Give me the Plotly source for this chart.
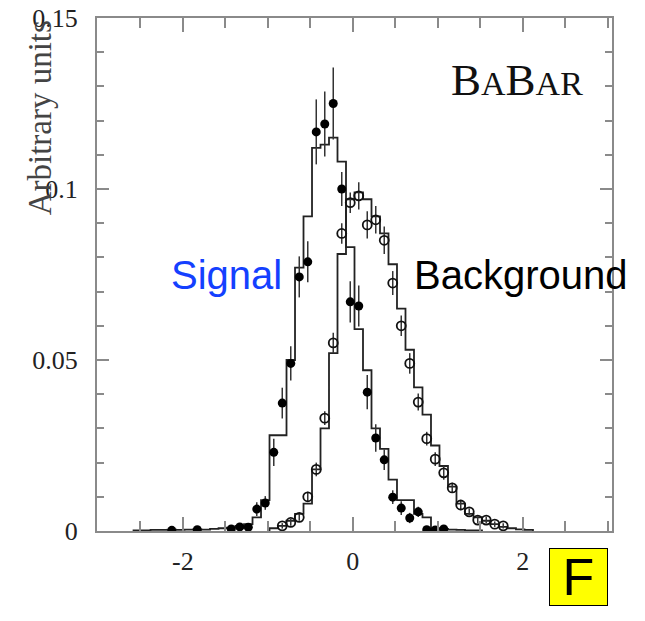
import numpy as np
import plotly.graph_objects as go

# data points (bin centres, values, errors)
sig_x = [-2.13, -1.83, -1.43, -1.33, -1.23, -1.13, -1.03, -0.93, -0.83, -0.73,
         -0.63, -0.53, -0.43, -0.33, -0.23, -0.13, -0.03, 0.07, 0.17, 0.27,
         0.37, 0.47, 0.57, 0.67, 0.77, 0.87, 0.97, 1.07]
sig_y = [0.0002, 0.0004, 0.0006, 0.0012, 0.0011, 0.0064, 0.0082, 0.023, 0.0374, 0.049,
         0.0743, 0.0787, 0.1167, 0.119, 0.125, 0.100, 0.067, 0.0658, 0.0406, 0.0272,
         0.0208, 0.0099, 0.0067, 0.0038, 0.0056, 0.0004, 0.0003, 0.0006]
sig_err = [0.0003, 0.0005, 0.0006, 0.001, 0.001, 0.002, 0.002, 0.004, 0.0045, 0.005,
           0.006, 0.006, 0.0095, 0.0095, 0.0105, 0.005, 0.006, 0.006, 0.005, 0.004,
           0.003, 0.002, 0.002, 0.0015, 0.0015, 0.0005, 0.0004, 0.0005]

bkg_x = [-0.83, -0.73, -0.63, -0.53, -0.43, -0.33, -0.23, -0.13, -0.03, 0.07,
         0.17, 0.27, 0.37, 0.47, 0.57, 0.67, 0.77, 0.87, 0.97, 1.07,
         1.17, 1.27, 1.37, 1.47, 1.57, 1.67, 1.77]
bkg_y = [0.0015, 0.0025, 0.004, 0.010, 0.018, 0.033, 0.055, 0.087, 0.096, 0.098,
         0.0895, 0.091, 0.085, 0.0725, 0.060, 0.049, 0.0377, 0.027, 0.021, 0.017,
         0.0126, 0.0076, 0.0056, 0.0032, 0.0032, 0.002, 0.0015]
bkg_err = [0.0008, 0.001, 0.001, 0.0015, 0.002, 0.002, 0.003, 0.003, 0.003, 0.004,
           0.004, 0.004, 0.004, 0.0035, 0.003, 0.003, 0.0025, 0.002, 0.002, 0.002,
           0.0015, 0.0015, 0.001, 0.001, 0.001, 0.0008, 0.0008]

# MC histograms, bin width 0.1
bin_w = 0.1
sig_mc_first = -2.53
sig_mc = [0.0002, 0.0002, 0.0003, 0.0003, 0.0004, 0.0003, 0.0004, 0.0005, 0.0004, 0.0006,
          0.0008, 0.001, 0.0015, 0.002, 0.004, 0.009, 0.028, 0.028, 0.050, 0.077,
          0.092, 0.112, 0.113, 0.115, 0.108, 0.083, 0.059, 0.047, 0.030, 0.024,
          0.015, 0.009, 0.009, 0.005, 0.004, 0.0008, 0.0006, 0.0004, 0.0003, 0.0002,
          0.0002]
bkg_mc_first = -0.93
bkg_mc = [0.0008, 0.0015, 0.003, 0.005, 0.008, 0.018, 0.030, 0.052, 0.081, 0.097,
          0.099, 0.097, 0.092, 0.087, 0.078, 0.065, 0.053, 0.042, 0.034, 0.025,
          0.019, 0.013, 0.008, 0.005, 0.004, 0.003, 0.002, 0.0012, 0.0008, 0.0005,
          0.0003]


def step_xy(first_centre, heights):
    h = np.array(heights)
    edges = first_centre - bin_w / 2 + bin_w * np.arange(len(h) + 1)
    xs = np.concatenate([[edges[0]], edges, [edges[-1]]])
    ys = np.concatenate([[0], h, [h[-1]], [0]])
    return xs, ys


fig = go.Figure()

for first, h in [(sig_mc_first, sig_mc), (bkg_mc_first, bkg_mc)]:
    xs, ys = step_xy(first, h)
    fig.add_trace(go.Scatter(x=xs, y=ys, mode="lines", line_shape="hv",
                             line=dict(color="#222", width=1.8),
                             hoverinfo="skip", showlegend=False))

fig.add_trace(go.Scatter(
    x=bkg_x, y=bkg_y, mode="markers",
    marker=dict(symbol="circle-open", size=9, color="#111", line=dict(width=1.8)),
    error_y=dict(type="data", array=bkg_err, width=0, thickness=1.5, color="#333"),
    showlegend=False))
fig.add_trace(go.Scatter(
    x=sig_x, y=sig_y, mode="markers",
    marker=dict(symbol="circle", size=9, color="#000"),
    error_y=dict(type="data", array=sig_err, width=0, thickness=1.5, color="#333"),
    showlegend=False))

serif = "Liberation Serif, Times New Roman, serif"
sans = "Liberation Sans, Arial, sans-serif"

axis_common = dict(
    showline=True, linecolor="#8a8a8a", linewidth=2, mirror="ticks",
    ticks="inside", tickcolor="#8a8a8a", tickwidth=1.5,
    showgrid=False, zeroline=False, automargin=False, ticklabeloverflow="allow",
    tickfont=dict(family=serif, size=26, color="#222"),
)

fig.update_xaxes(
    range=[-3.01, 3.05], tickvals=[-2, 0, 2], ticktext=["-2", "0", "2"],
    ticklen=14, ticklabelstandoff=6,
    minor=dict(dtick=0.5, ticks="inside", ticklen=10, tickcolor="#8a8a8a", tickwidth=1.5),
    **axis_common)
fig.update_yaxes(
    range=[0, 0.15], tickvals=[0, 0.05, 0.1, 0.15], ticktext=["0", "0.05", "0.1", "0.15"],
    ticklen=12, ticklabelstandoff=12,
    minor=dict(dtick=0.01, ticks="inside", ticklen=7, tickcolor="#8a8a8a", tickwidth=1.5),
    **axis_common)

fig.update_layout(
    width=645, height=621,
    margin=dict(l=97, r=33, t=18, b=90),
    plot_bgcolor="white", paper_bgcolor="white",
    annotations=[
        dict(text="Arbitrary units", textangle=-90, xref="paper", yref="paper",
             x=-0.111, y=1.0, xanchor="center", yanchor="top", showarrow=False,
             font=dict(family=serif, size=33, color="#444")),
        dict(text="B<span style='font-size:34px'>A</span>B<span style='font-size:34px'>AR</span>",
             xref="paper", yref="paper", x=0.683, y=0.88, xanchor="left", yanchor="middle",
             showarrow=False, font=dict(family=serif, size=45, color="#111")),
        dict(text="Signal", xref="paper", yref="paper", x=0.14, y=0.5,
             xanchor="left", yanchor="middle", showarrow=False,
             font=dict(family=sans, size=40, color="#1440ff")),
        dict(text="Background", xref="paper", yref="paper", x=0.612, y=0.5,
             xanchor="left", yanchor="middle", showarrow=False,
             font=dict(family=sans, size=40, color="#000")),
        dict(text="F", xref="paper", yref="paper", x=0.935, y=-0.0897,
             xanchor="center", yanchor="middle", showarrow=False,
             width=57, height=56, borderpad=0, bgcolor="#ffff00",
             bordercolor="#000", borderwidth=1,
             font=dict(family=sans, size=52, color="#000")),
    ],
)

# drop the default 8px page margin so the figure fills the window
fig.write_html("out.html", config={"displayModeBar": False},
               post_script="document.body.style.margin='0';")
